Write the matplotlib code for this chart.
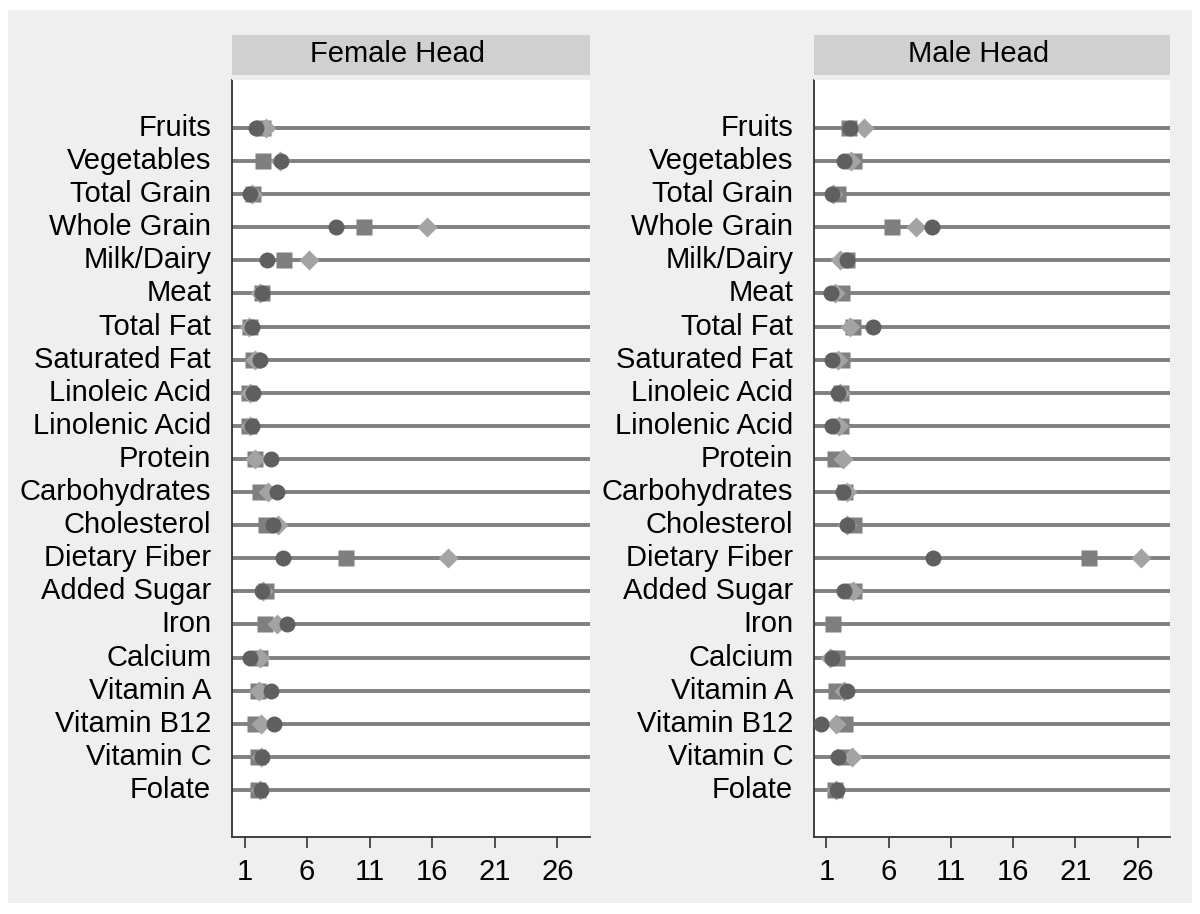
import numpy as np
import matplotlib
matplotlib.use("Agg")
import matplotlib.pyplot as plt
import matplotlib.transforms as mtransforms
from matplotlib.patches import Rectangle

plt.rcParams["font.family"] = ["Liberation Sans", "DejaVu Sans"]

nutrients = ["Fruits", "Vegetables", "Total Grain", "Whole Grain", "Milk/Dairy",
             "Meat", "Total Fat", "Saturated Fat", "Linoleic Acid", "Linolenic Acid",
             "Protein", "Carbohydrates", "Cholesterol", "Dietary Fiber", "Added Sugar",
             "Iron", "Calcium", "Vitamin A", "Vitamin B12", "Vitamin C", "Folate"]
nan = np.nan

female_circle = [1.93, 3.93, 1.45, 8.33, 2.79, 2.36, 1.59, 2.25, 1.67, 1.59, 3.08,
                 3.61, 3.26, 4.07, 2.39, 4.41, 1.45, 3.08, 3.32, 2.39, 2.33]
female_square = [2.50, 2.47, 1.67, 10.54, 4.14, 2.36, 1.45, 1.67, 1.35, 1.35, 1.80,
                 2.20, 2.73, 9.07, 2.68, 2.60, 2.25, 2.10, 1.80, 2.07, 2.07]
female_diamond = [2.73, 3.80, 1.59, 15.60, 6.14, 2.25, 1.35, 1.80, 1.45, 1.45, 1.80,
                  2.86, 3.66, 17.25, 2.47, 3.58, 2.25, 2.12, 2.33, 2.33, 2.25]

male_circle = [2.92, 2.39, 1.45, 9.47, 2.65, 1.37, 4.78, 1.45, 1.90, 1.45, nan,
               2.33, 2.65, 9.57, 2.44, nan, 1.45, 2.65, 0.60, 1.93, 1.85]
male_square = [2.78, 3.18, 1.90, 6.25, 2.65, 2.25, 3.13, 2.25, 2.17, 2.17, 1.72,
               2.50, 3.18, 22.09, 3.24, 1.53, 1.85, 1.80, 2.52, 2.40, 1.70]
male_diamond = [4.04, 2.97, 1.50, 8.19, 2.06, 1.72, 2.92, 1.90, 2.12, 1.98, 2.33,
                2.65, 2.65, 26.30, 3.13, nan, 1.27, 2.39, 1.80, 3.05, 1.80]

panels = [("Female Head", female_circle, female_square, female_diamond),
          ("Male Head", male_circle, male_square, male_diamond)]
xticks = [1, 6, 11, 16, 21, 26]

W, H = 1200, 914
fs = 21
fig = plt.figure(figsize=(12, 9.14), dpi=100, facecolor="white")
fig.patches.append(Rectangle((8 / W, 1 - 903 / H), 1184 / W, 893 / H,
                             transform=fig.transFigure, facecolor="#efefef",
                             edgecolor="none", zorder=-10))

lefts = [232, 814]
widths = [358, 356]
y = np.arange(len(nutrients))
lift = mtransforms.ScaledTranslation(0, 3 / 100, fig.dpi_scale_trans)
for (title, circ, sq, dia), lx, w in zip(panels, lefts, widths):
    ax = fig.add_axes([lx / W, 1 - 837 / H, w / W, 757 / H])
    ax.set_facecolor("white")
    for yi in y:
        ax.axhline(yi, color="#808080", lw=2.8, zorder=1)
    ax.plot(sq, y, "s", ms=11.5, color="#7f7f7f", mec="none", zorder=3, clip_on=False)
    ax.plot(dia, y, "D", ms=10.5, color="#a3a3a3", mec="none", zorder=4, clip_on=False)
    ax.plot(circ, y, "o", ms=11.5, color="#5f5f5f", mec="none", zorder=5, clip_on=False)
    ax.set_xlim(0, 28.6)
    ax.set_ylim(len(nutrients) - 1 + 1.42, -1.45)
    ax.set_yticks(y)
    ax.set_yticklabels(nutrients, fontsize=fs)
    ax.tick_params(axis="y", length=0, pad=15)
    for lab in ax.get_yticklabels():
        lab.set_transform(lab.get_transform() + lift)
    ax.set_xticks(xticks)
    ax.set_xticklabels([str(t) for t in xticks], fontsize=fs)
    ax.tick_params(axis="x", length=8, width=1.2, color="#333333", pad=7)
    for s in ["top", "right"]:
        ax.spines[s].set_visible(False)
    for s in ["left", "bottom"]:
        ax.spines[s].set_color("#333333")
        ax.spines[s].set_linewidth(1.3)
    # header strip
    fig.patches.append(Rectangle((lx / W, 1 - 75 / H), w / W, 40 / H,
                                 transform=fig.transFigure, facecolor="#d0d0d0",
                                 edgecolor="none", zorder=1))
    fig.patches.append(Rectangle((lx / W, 1 - 80 / H), w / W, 5 / H,
                                 transform=fig.transFigure, facecolor="#eaeef0",
                                 edgecolor="none", zorder=1))
    fig.text((lx + w / 2 - 13) / W, 1 - 54 / H, title, ha="center", va="center",
             fontsize=fs, color="black")

fig.savefig("out.png", dpi=100, facecolor="white")
